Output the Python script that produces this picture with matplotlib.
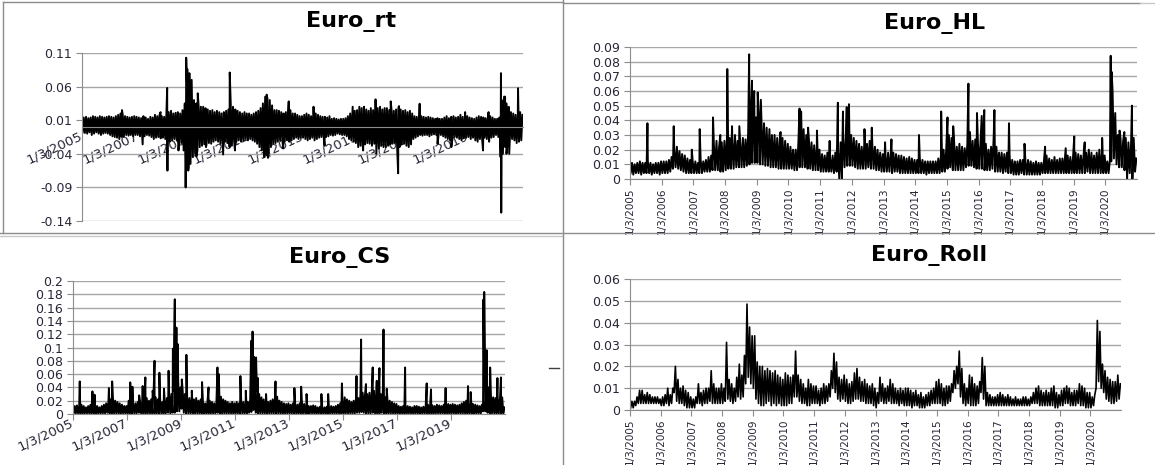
import numpy as np
import matplotlib.pyplot as plt
from matplotlib.lines import Line2D

# ---- datos (valores mensuales: techo y suelo de la banda) ----
# Euro_rt
rt_hi = [.014, .015, .013, .014, .016, .015, .014, .016, .015, .014, .015, .016,
         .015, .014, .016, .018, .020, .018, .016, .015, .014, .015, .016, .015,
         .014, .013, .016, .014, .012, .015, .014, .018, .016, .018, .016, .015,
         .020, .022, .024, .020, .021, .022, .020, .025, .035, .060, .080, .070,
         .040, .035, .032, .030, .030, .028, .026, .024, .025, .022, .024, .022,
         .020, .022, .024, .026, .035, .030, .026, .024, .022, .020, .022, .020,
         .020, .018, .020, .022, .024, .028, .035, .045, .042, .040, .032, .025,
         .025, .024, .022, .020, .022, .024, .025, .020, .020, .018, .016, .016,
         .018, .020, .018, .016, .018, .020, .018, .016, .015, .015, .014, .016,
         .012, .013, .012, .011, .012, .012, .013, .016, .020, .022, .024, .025,
         .030, .028, .030, .026, .024, .028, .025, .022, .028, .030, .026, .028,
         .028, .025, .026, .024, .026, .028, .026, .024, .025, .022, .024, .020,
         .016, .015, .014, .016, .015, .014, .015, .014, .013, .012, .013, .012,
         .012, .014, .016, .013, .015, .016, .014, .015, .018, .015, .014, .016,
         .014, .013, .012, .014, .016, .015, .014, .013, .015, .016, .014, .012,
         .012, .014, .040, .045, .035, .030, .022, .020, .018, .020, .022, .018]
rt_lo = [-.008, -.009, -.010, -.008, -.012, -.010, -.008, -.010, -.012, -.010, -.009, -.010,
         -.012, -.014, -.015, -.016, -.018, -.015, -.014, -.012, -.013, -.012, -.014, -.012,
         -.012, -.014, -.016, -.014, -.012, -.013, -.015, -.018, -.016, -.015, -.017, -.016,
         -.018, -.020, -.022, -.020, -.018, -.020, -.022, -.024, -.035, -.055, -.065, -.055,
         -.045, -.040, -.035, -.030, -.028, -.026, -.025, -.024, -.025, -.022, -.020, -.022,
         -.025, -.024, -.022, -.024, -.030, -.028, -.022, -.022, -.020, -.022, -.020, -.018,
         -.020, -.018, -.020, -.022, -.025, -.030, -.035, -.045, -.042, -.040, -.030, -.025,
         -.024, -.022, -.020, -.020, -.022, -.020, -.022, -.020, -.018, -.016, -.018, -.016,
         -.016, -.018, -.020, -.018, -.016, -.020, -.018, -.016, -.015, -.016, -.015, -.014,
         -.012, -.013, -.012, -.010, -.011, -.012, -.012, -.014, -.018, -.020, -.022, -.024,
         -.030, -.028, -.030, -.026, -.024, -.025, -.028, -.025, -.030, -.032, -.028, -.030,
         -.030, -.028, -.026, -.025, -.024, -.035, -.030, -.026, -.025, -.028, -.030, -.026,
         -.018, -.016, -.014, -.012, -.013, -.012, -.012, -.014, -.012, -.011, -.012, -.012,
         -.012, -.014, -.016, -.018, -.020, -.018, -.015, -.016, -.018, -.020, -.017, -.016,
         -.015, -.018, -.016, -.020, -.022, -.018, -.020, -.016, -.018, -.022, -.016, -.015,
         -.012, -.015, -.045, -.040, -.030, -.025, -.020, -.018, -.020, -.024, -.022, -.020]
rt_pico_t = [2006.45, 2007.20, 2007.85, 2008.09, 2008.10, 2008.50, 2008.76, 2008.78, 2008.82,
             2008.87, 2009.15, 2009.20, 2009.50, 2010.12, 2010.36, 2010.55, 2011.70, 2011.75,
             2012.30, 2012.50, 2013.40, 2013.80, 2014.82, 2015.20, 2015.65, 2015.68, 2016.20,
             2016.47, 2016.50, 2017.25, 2017.90, 2018.40, 2018.90, 2019.55, 2019.75, 2020.20,
             2020.21, 2020.35, 2020.40, 2020.50, 2020.82]
rt_pico_v = [.025, -.026, .022, .058, -.065, -.035, -.090, .103, .086,
             -.060, -.044, .050, -.030, -.041, .081, -.035, .048, -.046,
             -.032, .038, .030, -.028, .030, -.035, .041, -.040, .038,
             -.069, .031, .0345, -.025, -.030, .022, -.035, .022, .080,
             -.1275, .045, -.040, -.040, .0575]

# Euro_HL
hl_hi = [.011, .010, .011, .012, .011, .011, .012, .011, .010, .011, .011, .012,
         .012, .012, .013, .015, .020, .022, .019, .017, .016, .014, .013, .012,
         .012, .011, .013, .012, .013, .015, .016, .024, .026, .022, .025, .026,
         .030, .028, .027, .030, .026, .025, .028, .027, .032, .045, .050, .042,
         .045, .042, .038, .035, .032, .030, .030, .028, .027, .028, .026, .024,
         .022, .020, .020, .024, .038, .034, .030, .027, .025, .023, .022, .020,
         .017, .016, .018, .015, .016, .018, .020, .025, .028, .030, .032, .030,
         .028, .026, .024, .022, .025, .024, .026, .024, .022, .020, .018, .017,
         .016, .018, .017, .018, .017, .016, .016, .015, .014, .015, .014, .013,
         .013, .014, .013, .012, .012, .012, .012, .012, .014, .016, .020, .020,
         .030, .028, .025, .022, .024, .022, .021, .024, .032, .026, .027, .025,
         .026, .028, .024, .020, .022, .030, .022, .018, .018, .017, .018, .016,
         .013, .012, .012, .013, .013, .012, .013, .012, .011, .012, .011, .011,
         .012, .016, .014, .013, .015, .013, .014, .014, .015, .016, .015, .014,
         .018, .017, .016, .016, .018, .020, .018, .016, .018, .020, .018, .016,
         .012, .013, .060, .045, .030, .028, .026, .028, .025, .024, .028, .014]
hl_lo = [.004, .003, .004, .004, .003, .004, .004, .004, .003, .004, .004, .003,
         .004, .004, .004, .005, .007, .008, .007, .006, .005, .004, .004, .004,
         .004, .004, .004, .004, .005, .005, .005, .006, .006, .006, .005, .005,
         .006, .007, .007, .007, .008, .008, .008, .008, .009, .010, .011, .011,
         .011, .010, .010, .009, .009, .008, .008, .008, .007, .007, .007, .007,
         .007, .007, .006, .006, .008, .008, .008, .007, .007, .006, .006, .006,
         .005, .005, .005, .005, .005, .004, .005, .000, .000, .008, .009, .009,
         .009, .008, .007, .007, .007, .007, .008, .007, .007, .006, .006, .005,
         .005, .005, .005, .004, .005, .005, .004, .004, .004, .004, .004, .004,
         .004, .004, .004, .004, .003, .004, .004, .004, .004, .004, .005, .005,
         .007, .008, .006, .006, .006, .006, .006, .008, .009, .009, .008, .007,
         .007, .007, .006, .006, .006, .007, .005, .005, .005, .004, .005, .004,
         .004, .003, .003, .003, .004, .003, .003, .003, .003, .003, .003, .003,
         .004, .004, .004, .004, .004, .004, .004, .004, .004, .004, .004, .004,
         .004, .004, .004, .004, .004, .005, .004, .004, .004, .004, .004, .004,
         .004, .004, .012, .014, .010, .008, .008, .006, .000, .004, .000, .005]
hl_pico_t = [2005.55, 2006.38, 2006.95, 2007.20, 2007.62, 2007.85, 2008.07, 2008.22, 2008.45,
             2008.76, 2008.85, 2008.92, 2009.03, 2009.13, 2009.40, 2009.75, 2010.35, 2010.40,
             2010.62, 2010.90, 2011.30, 2011.56, 2011.72, 2011.84, 2011.91, 2012.40, 2012.63,
             2013.05, 2013.25, 2014.12, 2014.82, 2015.02, 2015.20, 2015.68, 2015.95, 2016.10,
             2016.18, 2016.50, 2016.96, 2017.45, 2018.10, 2018.75, 2019.02, 2019.35, 2019.90,
             2020.17, 2020.20, 2020.45, 2020.60, 2020.84]
hl_pico_v = [.038, .036, .020, .034, .042, .030, .075, .036, .036,
             .085, .067, .060, .059, .054, .034, .032, .048, .046,
             .035, .033, .026, .052, .046, .049, .051, .034, .035,
             .025, .027, .030, .046, .042, .036, .065, .045, .043,
             .047, .047, .038, .024, .022, .021, .029, .025, .028,
             .084, .073, .033, .032, .050]

# Euro_CS
cs_hi = [.012, .013, .012, .014, .012, .010, .012, .014, .018, .016, .012, .010,
         .012, .014, .016, .018, .022, .024, .020, .018, .016, .014, .012, .012,
         .020, .016, .014, .016, .018, .020, .018, .022, .024, .020, .022, .024,
         .025, .022, .020, .018, .020, .024, .028, .030, .035, .060, .050, .040,
         .035, .030, .025, .024, .022, .022, .024, .020, .022, .018, .016, .018,
         .020, .018, .016, .018, .030, .026, .022, .020, .018, .016, .018, .016,
         .018, .016, .020, .018, .016, .018, .022, .040, .045, .035, .030, .025,
         .022, .020, .018, .020, .022, .024, .026, .020, .018, .016, .015, .016,
         .014, .016, .015, .014, .016, .018, .015, .014, .012, .012, .013, .012,
         .010, .011, .010, .010, .011, .010, .012, .011, .012, .014, .016, .018,
         .025, .022, .020, .018, .020, .022, .024, .030, .032, .028, .030, .032,
         .030, .035, .030, .028, .030, .038, .025, .022, .020, .018, .016, .015,
         .012, .011, .012, .013, .012, .011, .010, .012, .012, .011, .010, .011,
         .012, .014, .015, .013, .012, .014, .013, .012, .014, .016, .015, .014,
         .015, .014, .013, .014, .016, .018, .020, .018, .016, .015, .014, .013,
         .012, .014, .045, .035, .030, .028, .025, .024, .026, .022, .025, .010]
cs_lo = [.001, .001, .001, .001, .000, .001, .001, .001, .001, .001, .000, .001,
         .001, .001, .001, .002, .001, .001, .001, .001, .001, .000, .001, .001,
         .001, .001, .001, .001, .001, .002, .001, .001, .001, .001, .001, .001,
         .001, .001, .001, .001, .001, .001, .002, .001, .002, .002, .004, .004,
         .008, .002, .001, .001, .001, .001, .001, .001, .001, .001, .000, .001,
         .001, .001, .001, .001, .002, .001, .001, .001, .001, .001, .001, .000,
         .001, .001, .001, .001, .001, .001, .002, .003, .006, .002, .001, .001,
         .001, .001, .001, .001, .001, .001, .001, .001, .001, .000, .001, .001,
         .001, .001, .001, .000, .001, .001, .001, .001, .000, .001, .001, .001,
         .000, .001, .001, .000, .001, .000, .001, .001, .001, .001, .001, .001,
         .001, .001, .001, .001, .001, .001, .002, .002, .003, .002, .001, .001,
         .001, .002, .001, .001, .001, .002, .001, .001, .001, .001, .001, .000,
         .001, .000, .001, .001, .000, .001, .001, .000, .001, .001, .000, .001,
         .001, .001, .001, .001, .000, .001, .001, .001, .001, .001, .001, .000,
         .001, .001, .000, .001, .001, .001, .001, .001, .001, .001, .000, .001,
         .001, .001, .004, .004, .002, .001, .001, .001, .001, .001, .001, .001]
cs_pico_t = [2005.25, 2005.72, 2005.80, 2006.33, 2006.45, 2007.12, 2007.20, 2007.45, 2007.58,
             2007.68, 2007.95, 2008.02, 2008.20, 2008.37, 2008.54, 2008.70, 2008.77, 2008.83,
             2008.88, 2009.03, 2009.20, 2009.40, 2009.78, 2010.02, 2010.35, 2010.40, 2011.20,
             2011.40, 2011.60, 2011.65, 2011.70, 2011.78, 2011.85, 2012.15, 2012.50, 2013.20,
             2013.45, 2013.65, 2014.20, 2014.45, 2014.96, 2015.50, 2015.67, 2015.85, 2016.10,
             2016.25, 2016.35, 2016.50, 2016.62, 2017.30, 2018.10, 2018.26, 2018.80, 2019.63,
             2019.73, 2020.20, 2020.23, 2020.32, 2020.38, 2020.45, 2020.72, 2020.85]
cs_pico_v = [.049, .034, .029, .039, .049, .0475, .041, .028, .042,
             .055, .035, .080, .062, .038, .065, .098, .1725, .130,
             .105, .052, .089, .035, .048, .040, .070, .060, .057,
             .035, .110, .124, .086, .085, .054, .030, .049, .039,
             .041, .030, .030, .030, .046, .057, .112, .045, .070,
             .050, .069, .127, .038, .070, .046, .037, .039, .042,
             .033, .172, .1835, .096, .040, .070, .054, .055]

# Euro_Roll
roll_hi = [.004, .004, .006, .009, .009, .007, .008, .007, .006, .006, .006, .005,
           .006, .007, .010, .007, .010, .020, .014, .010, .011, .009, .008, .006,
           .005, .006, .012, .008, .009, .010, .010, .018, .012, .010, .010, .012,
           .010, .031, .014, .012, .010, .015, .021, .016, .025, .0485, .038, .034,
           .034, .022, .020, .020, .018, .019, .018, .017, .018, .016, .015, .014,
           .017, .016, .015, .016, .027, .016, .014, .012, .010, .014, .012, .011,
           .011, .009, .010, .012, .011, .012, .018, .026, .022, .015, .014, .016,
           .014, .012, .013, .017, .019, .015, .013, .014, .012, .011, .012, .010,
           .008, .015, .012, .010, .011, .014, .012, .010, .009, .010, .009, .010,
           .010, .009, .008, .009, .007, .008, .006, .007, .008, .009, .010, .013,
           .014, .012, .010, .011, .011, .012, .018, .020, .027, .019, .012, .010,
           .016, .015, .012, .011, .013, .024, .020, .008, .007, .006, .006, .007,
           .008, .007, .006, .007, .006, .005, .006, .005, .005, .006, .006, .005,
           .006, .008, .010, .011, .009, .008, .009, .008, .010, .011, .008, .007,
           .009, .010, .011, .010, .008, .009, .009, .012, .011, .010, .008, .008,
           .006, .007, .041, .036, .021, .018, .015, .014, .013, .013, .016, .012]
roll_lo = [.001, .001, .002, .003, .003, .003, .003, .003, .003, .003, .003, .003,
           .002, .002, .003, .002, .003, .008, .004, .003, .003, .002, .001, .001,
           .001, .001, .003, .003, .002, .003, .003, .004, .003, .003, .003, .003,
           .003, .004, .005, .004, .003, .004, .006, .005, .006, .012, .015, .012,
           .010, .005, .003, .002, .002, .003, .004, .002, .003, .002, .003, .002,
           .002, .002, .003, .003, .006, .006, .004, .003, .003, .002, .002, .003,
           .003, .003, .002, .003, .003, .004, .006, .010, .008, .005, .004, .005,
           .004, .003, .003, .004, .005, .005, .004, .004, .003, .003, .003, .002,
           .001, .003, .004, .003, .003, .004, .003, .003, .003, .002, .003, .002,
           .002, .002, .001, .002, .002, .001, .001, .001, .002, .002, .003, .003,
           .003, .003, .002, .002, .003, .004, .008, .010, .012, .006, .003, .002,
           .003, .002, .002, .002, .003, .008, .005, .002, .002, .002, .002, .002,
           .002, .002, .002, .002, .002, .002, .002, .002, .002, .002, .002, .002,
           .002, .003, .003, .003, .002, .002, .002, .002, .002, .002, .001, .001,
           .002, .002, .003, .003, .002, .002, .002, .003, .002, .002, .001, .001,
           .001, .002, .010, .013, .010, .008, .005, .004, .003, .003, .004, .005]

# ejes
rt_yticks = [-0.14, -0.09, -0.04, 0.01, 0.06, 0.11]
hl_yticks = [0, 0.01, 0.02, 0.03, 0.04, 0.05, 0.06, 0.07, 0.08, 0.09]
cs_yticks = [0, 0.02, 0.04, 0.06, 0.08, 0.1, 0.12, 0.14, 0.16, 0.18, 0.2]
roll_yticks = [0, 0.01, 0.02, 0.03, 0.04, 0.05, 0.06]
anios_2 = [2005, 2007, 2009, 2011, 2013, 2015, 2017, 2019]
anios_1 = list(range(2005, 2021))

W, H = 1155, 465
GRIS = '#8c8c8c'
TXT = '#262636'


def serie(hi, lo, pico_t=(), pico_v=()):
    # banda mensual (suelo, techo) mas los picos aislados, ordenado en el tiempo
    mes = 2005 + np.arange(len(hi)) / 12
    x = np.concatenate([mes + 1 / 48, mes + 3 / 48, pico_t])
    y = np.concatenate([lo, hi, pico_v])
    orden = np.argsort(x, kind='stable')
    return x[orden], y[orden]


def ejes(l, t, r, b):
    return fig.add_axes([l / W, 1 - b / H, (r - l) / W, (b - t) / H])


def estilo(ax, yticks, anios, rot, fs_x, cero=False):
    ax.set_xlim(2005, 2021)
    ax.set_ylim(yticks[0], yticks[-1])
    ax.set_yticks(yticks)
    ax.set_yticklabels([f'{v:g}' for v in yticks])
    ax.set_xticks(anios)
    ax.set_xticklabels([f'1/3/{a}' for a in anios])
    ax.grid(axis='y', color='#a6a6a6', lw=1)
    ax.set_axisbelow(True)
    for s in ['top', 'right']:
        ax.spines[s].set_visible(False)
    for s in ['left', 'bottom']:
        ax.spines[s].set_color(GRIS)
    if cero:
        ax.spines['bottom'].set_position(('data', 0))
    ax.tick_params(axis='y', length=4, color=GRIS, labelsize=9, labelcolor=TXT, pad=3)
    ax.tick_params(axis='x', length=4, color=GRIS, labelsize=fs_x, labelcolor=TXT, pad=2)
    for lab in ax.get_xticklabels():
        lab.set_rotation(rot)
        if rot != 90:
            lab.set_rotation_mode('anchor')
            lab.set_ha('right')
            lab.set_va('center')


fig = plt.figure(figsize=(W / 100, H / 100), dpi=100)

ax1 = ejes(82, 53, 523, 221)
x, y = serie(rt_hi, rt_lo, rt_pico_t, rt_pico_v)
ax1.plot(x, y, color='black', lw=1.4)
estilo(ax1, rt_yticks, anios_2, 25, 9.5, cero=True)

ax2 = ejes(630, 47, 1137, 179)
x, y = serie(hl_hi, hl_lo, hl_pico_t, hl_pico_v)
ax2.plot(x, y, color='black', lw=1.4)
estilo(ax2, hl_yticks, anios_1, 90, 7.5)

ax3 = ejes(73, 281, 505, 414)
x, y = serie(cs_hi, cs_lo, cs_pico_t, cs_pico_v)
ax3.plot(x, y, color='black', lw=1.4)
estilo(ax3, cs_yticks, anios_2, 25, 9.5)

ax4 = ejes(630, 279, 1121, 410)
x, y = serie(roll_hi, roll_lo)
ax4.plot(x, y, color='black', lw=1.2)
estilo(ax4, roll_yticks, anios_1, 90, 7.5)

# titulos
for tx, ty, nombre in [(351, 22, 'Euro_rt'), (935, 23, 'Euro_HL'),
                       (340, 258, 'Euro_CS'), (929, 255, 'Euro_Roll')]:
    fig.text(tx / W, 1 - ty / H, nombre, ha='center', va='center',
             fontsize=16, fontweight='bold', color='black')


# bordes de los graficos
def linea(x0, y0, x1, y1, color=GRIS, lw=1):
    fig.add_artist(Line2D([x0 / W, x1 / W], [1 - y0 / H, 1 - y1 / H], color=color, lw=lw))


linea(3, 2, 563, 2)
linea(3, 2, 3, 233)
linea(563, 3, 1140, 3)
linea(1140, 3, 1155, 3, color='#c8c8c8')
linea(0, 233, 1155, 233)
linea(0, 236, 563, 236, color='#c8c8c8')
linea(563, 0, 563, 465)
linea(549, 368, 559, 368, color='#404040')

fig.savefig('out.png', dpi=100)
